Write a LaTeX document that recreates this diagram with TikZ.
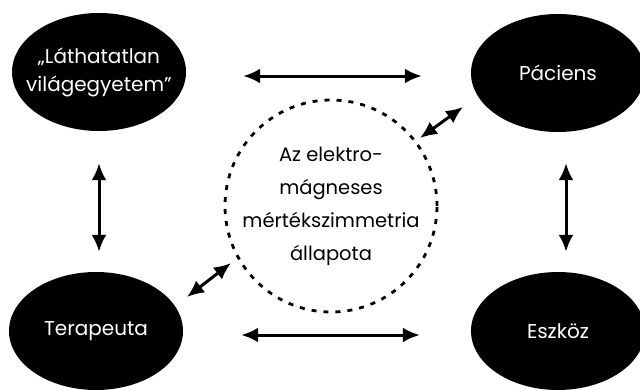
\documentclass[tikz,border=0pt]{standalone}
\usepackage{fontspec}
\setmainfont{Poppins}
\usetikzlibrary{shapes.geometric,arrows.meta}
\tikzset{
	blob/.style={ellipse, fill=black, text=white, minimum width=174pt, minimum height=118pt, inner xsep=-22pt, inner ysep=0pt, align=center, font=\fontsize{20}{28}\selectfont},
	ring/.style={circle, draw=black, line width=2.8pt, dash pattern=on 5pt off 7pt, minimum size=212pt, inner sep=-30pt, align=center, font=\fontsize{19.5}{33}\selectfont},
	link/.style={line width=3pt, {Latex[length=17pt,width=15pt]}-{Latex[length=17pt,width=15pt]}},
}
\begin{document}
\begin{tikzpicture}[x=1pt,y=-1pt]
	\useasboundingbox (0,0) rectangle (640,389);
	\node[blob] (univ) at (99,72) {„Láthatatlan\\világegyetem”};
	\node[blob] (pac) at (558,73) {Páciens};
	\node[blob] (ter) at (96,331) {Terapeuta};
	\node[blob] (esz) at (558,331) {Eszköz};
	\node[ring] (symm) at (331,206) {Az elektro-\\mágneses\\mértékszimmetria\\állapota};
	\coordinate (pa) at (420,138);
	\coordinate (pb) at (463,107);
	\coordinate (ta) at (187,297);
	\coordinate (tb) at (231,263);
	% links round the circle
	\draw[link, shorten <=57pt, shorten >=49pt] ([yshift=-4pt]univ.east) -- ([yshift=-4pt]univ.east -| pac.west);
	\draw[link, shorten <=58pt, shorten >=51pt] ([yshift=-4pt]ter.east) -- ([yshift=-4pt]ter.east -| esz.west);
	\draw[link, shorten <=32pt, shorten >=20pt] (univ.south) -- (univ.south |- ter.north);
	\draw[link, shorten <=31pt, shorten >=20pt] ([xshift=8pt]pac.south) -- ([xshift=8pt]pac.south |- esz.north);
	\draw[link] (pa) -- (pb);
	\draw[link] (ta) -- (tb);
\end{tikzpicture}
\end{document}
